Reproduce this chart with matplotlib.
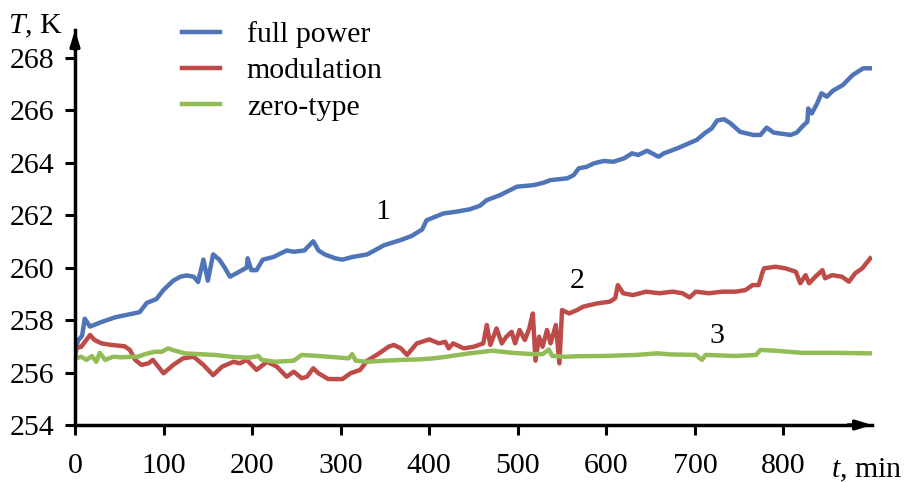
import matplotlib
matplotlib.use("Agg")
import matplotlib.pyplot as plt

# ---------------- data ----------------
t_full = [0, 3, 8, 11, 17, 28, 45, 66, 73, 81, 92, 100, 111, 119, 126, 134, 139, 145, 150,
          156, 163, 169, 175, 186, 194, 195, 199, 205, 212, 224, 239, 247, 259, 269, 275,
          282, 294, 302, 313, 330, 349, 368, 380, 392, 397, 416, 431, 446, 457, 465, 480,
          499, 518, 529, 537, 556, 563, 569, 578, 586, 597, 608, 620, 629, 636, 646, 659,
          665, 680, 691, 702, 712, 719, 725, 733, 740, 751, 766, 774, 781, 789, 800, 808,
          815, 823, 827, 828, 832, 838, 843, 849, 856, 867, 878, 890, 899]
v_full = [256.6, 257.2, 257.4, 258.05, 257.75, 257.9, 258.1, 258.25, 258.3, 258.65, 258.8,
          259.15, 259.5, 259.65, 259.7, 259.65, 259.45, 260.3, 259.5, 260.5, 260.3, 260.0,
          259.65, 259.85, 260.0, 260.35, 259.9, 259.9, 260.3, 260.4, 260.65, 260.6, 260.65,
          261.0, 260.65, 260.5, 260.35, 260.3, 260.4, 260.5, 260.85, 261.05, 261.2, 261.45,
          261.8, 262.06, 262.13, 262.22, 262.35, 262.57, 262.76, 263.08, 263.14, 263.23,
          263.33, 263.4, 263.52, 263.78, 263.84, 263.97, 264.06, 264.03, 264.16, 264.35,
          264.29, 264.45, 264.22, 264.35, 264.54, 264.7, 264.86, 265.14, 265.3, 265.6,
          265.65, 265.5, 265.17, 265.05, 265.05, 265.33, 265.14, 265.09, 265.05, 265.14,
          265.43, 265.55, 266.06, 265.87, 266.25, 266.64, 266.51, 266.74, 266.95, 267.33,
          267.59, 267.59]

t_mod = [0, 7, 17, 22, 30, 41, 56, 62, 68, 75, 83, 88, 100, 111, 122, 134, 145, 156, 166,
         179, 186, 194, 205, 217, 228, 239, 247, 256, 262, 269, 275, 286, 294, 302, 311,
         322, 330, 343, 354, 360, 368, 375, 386, 400, 411, 418, 422, 427, 439, 450, 461,
         465, 469, 476, 482, 487, 493, 497, 502, 508, 513, 517, 520, 524, 528, 533, 537,
         543, 547, 550, 558, 567, 574, 589, 604, 610, 613, 619, 630, 645, 660, 675, 686,
         694, 701, 716, 731, 746, 757, 765, 772, 776, 778, 791, 802, 814, 819, 825, 829,
         836, 844, 847, 855, 866, 874, 881, 889, 898]
v_mod = [256.92, 256.98, 257.43, 257.24, 257.11, 257.05, 257.0, 256.86, 256.48, 256.29,
         256.35, 256.48, 255.97, 256.29, 256.54, 256.6, 256.29, 255.9, 256.22, 256.41,
         256.35, 256.48, 256.1, 256.41, 256.22, 255.84, 256.03, 255.78, 255.84, 256.16,
         255.97, 255.75, 255.75, 255.75, 255.97, 256.1, 256.45, 256.72, 256.98, 257.05,
         256.92, 256.67, 257.11, 257.26, 257.11, 257.17, 256.92, 257.11, 256.92, 256.98,
         257.11, 257.81, 257.05, 257.68, 257.11, 257.36, 257.55, 257.11, 257.62, 257.24,
         257.68, 258.25, 256.45, 257.36, 256.98, 257.62, 257.11, 257.81, 256.35, 258.38,
         258.25, 258.38, 258.51, 258.63, 258.7, 258.83, 259.33, 259.02, 258.95, 259.08,
         259.02, 259.08, 259.02, 258.86, 259.08, 259.02, 259.08, 259.08, 259.14, 259.33,
         259.33, 259.78, 259.97, 260.03, 259.97, 259.84, 259.4, 259.71, 259.4, 259.65,
         259.9, 259.59, 259.71, 259.65, 259.46, 259.78, 259.97, 260.35]

t_zero = [0, 7, 13, 19, 24, 28, 34, 43, 53, 64, 71, 79, 90, 98, 105, 113, 124, 139, 158,
          177, 196, 207, 211, 226, 247, 256, 275, 294, 309, 313, 317, 330, 349, 368, 389,
          405, 419, 445, 471, 494, 517, 528, 535, 539, 554, 567, 597, 634, 657, 672, 701,
          708, 712, 746, 769, 774, 791, 821, 859, 898]
v_zero = [256.54, 256.6, 256.48, 256.63, 256.41, 256.75, 256.48, 256.6, 256.58, 256.6,
          256.6, 256.7, 256.79, 256.79, 256.92, 256.83, 256.73, 256.7, 256.67, 256.6,
          256.56, 256.63, 256.48, 256.41, 256.45, 256.67, 256.63, 256.58, 256.54, 256.7,
          256.45, 256.41, 256.45, 256.48, 256.5, 256.54, 256.6, 256.73, 256.83, 256.75,
          256.7, 256.7, 256.88, 256.63, 256.6, 256.62, 256.63, 256.67, 256.73, 256.69,
          256.67, 256.48, 256.67, 256.63, 256.67, 256.86, 256.83, 256.75, 256.75, 256.73]

series_labels = ["full power", "modulation", "zero-type"]
curve_numbers = ["1", "2", "3"]
x_ticks = [0, 100, 200, 300, 400, 500, 600, 700, 800]
y_ticks = [254, 256, 258, 260, 262, 264, 266, 268]

# ---------------- style ----------------
plt.rcParams["font.family"] = ["Liberation Serif", "DejaVu Serif"]
plt.rcParams["mathtext.fontset"] = "custom"
plt.rcParams["mathtext.rm"] = "Liberation Serif"
plt.rcParams["mathtext.it"] = "Liberation Serif:italic"
FS = 21.5
colors = ["#4F74B7", "#BE4B48", "#92BC56"]

W, H = 909, 482
fig = plt.figure(figsize=(W / 100, H / 100), dpi=100)
ax = fig.add_axes([75 / W, 1 - 425 / H, (872 - 75) / W, (425 - 30) / H])
ax.set_xlim(0, 900)
ax.set_ylim(254, 269.05)

lw = 3.2
l1, = ax.plot(t_full, v_full, color=colors[0], lw=lw, solid_joinstyle="round")
l2, = ax.plot(t_mod, v_mod, color=colors[1], lw=lw, solid_joinstyle="round")
l3, = ax.plot(t_zero, v_zero, color=colors[2], lw=lw, solid_joinstyle="round")

for s in ["top", "right"]:
    ax.spines[s].set_visible(False)
for s in ["left", "bottom"]:
    ax.spines[s].set_linewidth(2.5)
    ax.spines[s].set_color("black")

ax.set_xticks(x_ticks)
ax.set_yticks(y_ticks)
ax.tick_params(axis="both", direction="out", length=7, width=2.2, labelsize=FS,
               colors="black")
ax.tick_params(axis="y", pad=8)
ax.tick_params(axis="x", pad=13)

# arrow heads on the axes
ax.annotate("", xy=(1.0, 0), xytext=(0.97, 0), xycoords="axes fraction",
            arrowprops=dict(arrowstyle="-|>,head_length=0.9,head_width=0.28",
                            color="black", lw=2.5, shrinkA=0, shrinkB=0),
            annotation_clip=False)
ax.annotate("", xy=(0, 1.0), xytext=(0, 0.95), xycoords="axes fraction",
            arrowprops=dict(arrowstyle="-|>,head_length=0.9,head_width=0.28",
                            color="black", lw=2.5, shrinkA=0, shrinkB=0),
            annotation_clip=False)

# axis titles
fig.text(8 / W, 1 - 33 / H, "$T$, K", fontsize=FS, ha="left", va="baseline")
fig.text(902 / W, 1 - 477 / H, "$t$, min", fontsize=FS, ha="right", va="baseline")

# curve numbers
ax.text(348, 262.11, curve_numbers[0], fontsize=FS, ha="center", va="center")
ax.text(567, 259.49, curve_numbers[1], fontsize=FS, ha="center", va="center")
ax.text(725, 257.39, curve_numbers[2], fontsize=FS, ha="center", va="center")

leg = fig.legend([l1, l2, l3], series_labels, loc="upper left",
                 bbox_to_anchor=(182 / W, 1 - 21 / H), frameon=False, fontsize=FS,
                 handlelength=1.27, handletextpad=0.9, labelspacing=0.32,
                 borderpad=0.0, borderaxespad=0.0)

fig.savefig("out.png", dpi=100)
